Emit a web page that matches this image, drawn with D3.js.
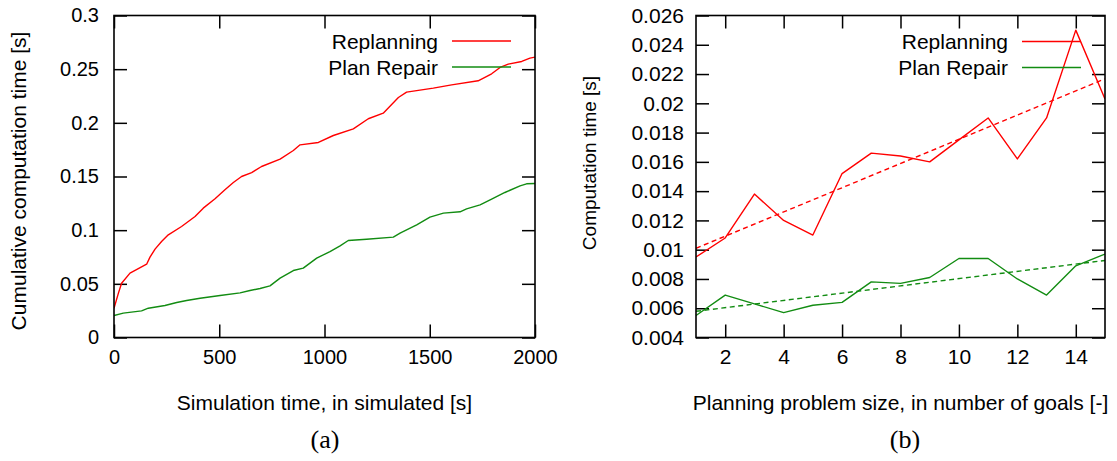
<!DOCTYPE html>
<html>
<head>
<meta charset="utf-8">
<script src="https://cdn.jsdelivr.net/npm/d3@7/dist/d3.min.js"></script>
<style>
  html, body { margin: 0; padding: 0; background: #fff; }
  svg text { font-family: "Liberation Sans", Arial, sans-serif; fill: #000; }
</style>
</head>
<body>
<svg id="chart" width="1117" height="461"></svg>
<script>
// ---- (a) cumulative computation time over simulated time ----
const simTimeReplan = [0, 21, 36, 76, 155, 171, 195, 226, 258, 321, 385, 424, 480, 527, 567, 606, 654, 701, 789, 852, 884, 971, 1042, 1137, 1208, 1279, 1351, 1390, 1517, 1604, 1730, 1794, 1834, 1873, 1937, 1976, 2000];
const cumReplan = [0.0273, 0.0413, 0.0506, 0.060, 0.0683, 0.0749, 0.0823, 0.0894, 0.0957, 0.1034, 0.1127, 0.1205, 0.1292, 0.1376, 0.1444, 0.150, 0.1537, 0.1593, 0.1662, 0.1742, 0.1795, 0.1817, 0.1882, 0.1944, 0.2038, 0.209, 0.2236, 0.2286, 0.2323, 0.2354, 0.2392, 0.2457, 0.2516, 0.2547, 0.2572, 0.2603, 0.2612];
const simTimeRepair = [0, 44, 131, 163, 242, 298, 345, 409, 504, 599, 646, 694, 741, 789, 852, 899, 963, 1026, 1074, 1113, 1200, 1327, 1359, 1438, 1501, 1565, 1644, 1675, 1739, 1794, 1857, 1929, 1960, 2000];
const cumRepair = [0.0205, 0.0227, 0.0248, 0.0273, 0.0298, 0.0326, 0.0345, 0.0366, 0.0391, 0.0416, 0.0438, 0.0457, 0.0481, 0.0553, 0.0624, 0.0646, 0.0739, 0.0801, 0.0854, 0.0904, 0.0916, 0.0935, 0.0972, 0.105, 0.1121, 0.1159, 0.1171, 0.1199, 0.1236, 0.1289, 0.1351, 0.1413, 0.1432, 0.1435];
const aXTicks = [0, 500, 1000, 1500, 2000];
const aXTickLabels = ["0", "500", "1000", "1500", "2000"];
const aYTicks = [0, 0.05, 0.1, 0.15, 0.2, 0.25, 0.3];
const aYTickLabels = ["0", "0.05", "0.1", "0.15", "0.2", "0.25", "0.3"];

// ---- (b) computation time per problem size ----
const goals = [1, 2, 3, 4, 5, 6, 7, 8, 9, 10, 11, 12, 13, 14, 15];
const timeReplan = [0.0095, 0.0108, 0.0138, 0.0120, 0.0110, 0.0152, 0.0166, 0.0164, 0.0160, 0.0175, 0.0190, 0.0162, 0.0190, 0.0250, 0.0203];
const timeRepair = [0.0055, 0.0069, 0.0063, 0.0057, 0.0062, 0.0064, 0.0078, 0.0077, 0.0081, 0.0094, 0.0094, 0.0080, 0.0069, 0.0089, 0.0097];
const bXTicks = [2, 4, 6, 8, 10, 12, 14];
const bXTickLabels = ["2", "4", "6", "8", "10", "12", "14"];
const bYTicks = [0.004, 0.006, 0.008, 0.010, 0.012, 0.014, 0.016, 0.018, 0.020, 0.022, 0.024, 0.026];
const bYTickLabels = ["0.004", "0.006", "0.008", "0.01", "0.012", "0.014", "0.016", "0.018", "0.02", "0.022", "0.024", "0.026"];

const seriesNames = ["Replanning", "Plan Repair"];
const RED = "#ff0000", GREEN = "#128c12";

const svg = d3.select("#chart");

// least-squares line through (xs, ys)
function linFit(xs, ys) {
  const n = xs.length;
  const mx = d3.mean(xs), my = d3.mean(ys);
  let sxy = 0, sxx = 0;
  for (let i = 0; i < n; i++) { sxy += (xs[i] - mx) * (ys[i] - my); sxx += (xs[i] - mx) ** 2; }
  const b = sxy / sxx;
  return x => my + b * (x - mx);
}

function panel(opt) {
  const g = svg.append("g");
  const x = d3.scaleLinear().domain(opt.xDomain).range([opt.left, opt.right]);
  const y = d3.scaleLinear().domain(opt.yDomain).range([opt.bottom, opt.top]);
  const clipId = "clip-" + opt.id;
  g.append("clipPath").attr("id", clipId).append("rect")
    .attr("x", opt.left).attr("y", opt.top)
    .attr("width", opt.right - opt.left).attr("height", opt.bottom - opt.top);

  const tick = 13;
  const fmt = (vals, labels) => d => labels[vals.indexOf(d)];
  const axes = [
    d3.axisBottom(x).tickValues(opt.xTicks).tickFormat(fmt(opt.xTicks, opt.xLabels)).tickSize(-tick).tickSizeOuter(0).tickPadding(12),
    d3.axisTop(x).tickValues(opt.xTicks).tickFormat("").tickSize(-tick).tickSizeOuter(0),
    d3.axisLeft(y).tickValues(opt.yTicks).tickFormat(fmt(opt.yTicks, opt.yLabels)).tickSize(-tick).tickSizeOuter(0).tickPadding(opt.yPad),
    d3.axisRight(y).tickValues(opt.yTicks).tickFormat("").tickSize(-tick).tickSizeOuter(0)
  ];
  const tr = [`translate(0,${opt.bottom})`, `translate(0,${opt.top})`, `translate(${opt.left},0)`, `translate(${opt.right},0)`];
  axes.forEach((ax, i) => {
    const a = g.append("g").attr("transform", tr[i]).call(ax);
    a.select(".domain").remove();
    a.selectAll(".tick line").attr("stroke", "#000").attr("stroke-width", 1.5);
    a.selectAll("text").style("font-family", '"Liberation Sans", Arial, sans-serif')
      .style("font-size", opt.tickFont + "px").attr("fill", "#000");
  });

  const plot = g.append("g").attr("clip-path", `url(#${clipId})`);
  opt.series.forEach(s => {
    const line = d3.line().x(d => x(d[0])).y(d => y(d[1]));
    plot.append("path").datum(d3.zip(s.xs, s.ys))
      .attr("d", line).attr("fill", "none").attr("stroke", s.color)
      .attr("stroke-width", 1.4).attr("stroke-linejoin", "round");
    if (s.fit) {
      const f = linFit(s.xs, s.ys);
      const ends = opt.xDomain.map(v => [v, f(v)]);
      plot.append("path").datum(ends).attr("d", line).attr("fill", "none")
        .attr("stroke", s.color).attr("stroke-width", 1.4).attr("stroke-dasharray", "5,3.5");
    }
  });

  // frame
  g.append("rect").attr("x", opt.left).attr("y", opt.top)
    .attr("width", opt.right - opt.left).attr("height", opt.bottom - opt.top)
    .attr("fill", "none").attr("stroke", "#000").attr("stroke-width", 1.6);

  // legend
  opt.series.forEach((s, i) => {
    const ly = opt.legendY + i * 26;
    g.append("text").attr("x", opt.legendTextX).attr("y", ly + 7.5)
      .attr("text-anchor", "end").style("font-size", "21px").text(s.name);
    g.append("line").attr("x1", opt.legendLine[0]).attr("x2", opt.legendLine[1])
      .attr("y1", ly).attr("y2", ly).attr("stroke", s.color).attr("stroke-width", 1.4);
  });

  // axis titles
  g.append("text").attr("x", (opt.left + opt.right) / 2).attr("y", 410)
    .attr("text-anchor", "middle").style("font-size", "21px").text(opt.xTitle);
  g.append("text").attr("transform", `translate(${opt.yTitleX},${opt.yTitleY}) rotate(-90)`)
    .attr("text-anchor", "middle").style("font-size", opt.yTitleFont + "px").text(opt.yTitle);
  g.append("text").attr("x", opt.captionX).attr("y", 448)
    .attr("text-anchor", "middle").style("font-family", '"Liberation Serif", "DejaVu Serif", serif')
    .style("font-size", "26px").text(opt.caption);
}

panel({
  id: "a", left: 114, right: 535, top: 15.5, bottom: 337.5,
  xDomain: [0, 2000], yDomain: [0, 0.3],
  xTicks: aXTicks, xLabels: aXTickLabels, yTicks: aYTicks, yLabels: aYTickLabels,
  yPad: 15, tickFont: 20,
  series: [
    { name: seriesNames[0], xs: simTimeReplan, ys: cumReplan, color: RED },
    { name: seriesNames[1], xs: simTimeRepair, ys: cumRepair, color: GREEN }
  ],
  legendY: 41, legendTextX: 438, legendLine: [452, 511],
  xTitle: "Simulation time, in simulated [s]",
  yTitle: "Cumulative computation time [s]", yTitleX: 26, yTitleY: 181, yTitleFont: 21,
  caption: "(a)", captionX: 325
});

panel({
  id: "b", left: 696, right: 1105, top: 15.5, bottom: 337.5,
  xDomain: [1, 15], yDomain: [0.004, 0.026],
  xTicks: bXTicks, xLabels: bXTickLabels, yTicks: bYTicks, yLabels: bYTickLabels,
  yPad: 12, tickFont: 21,
  series: [
    { name: seriesNames[0], xs: goals, ys: timeReplan, color: RED, fit: true },
    { name: seriesNames[1], xs: goals, ys: timeRepair, color: GREEN, fit: true }
  ],
  legendY: 41.5, legendTextX: 1008, legendLine: [1022, 1081],
  xTitle: "Planning problem size, in number of goals [-]",
  yTitle: "Computation time [s]", yTitleX: 596, yTitleY: 163, yTitleFont: 19,
  caption: "(b)", captionX: 905
});
</script>
</body>
</html>
